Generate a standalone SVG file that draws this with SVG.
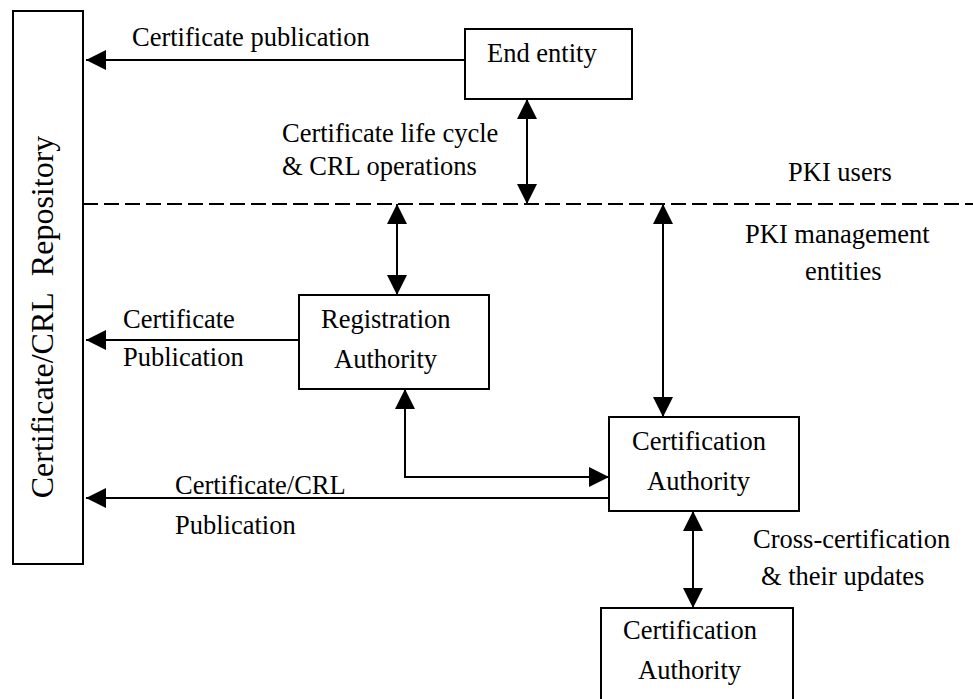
<svg xmlns="http://www.w3.org/2000/svg" width="973" height="699" viewBox="0 0 973 699">
<style>
.box{fill:#fff;stroke:#000;stroke-width:2}
.t{font-family:"Liberation Serif","Times New Roman",serif;font-size:26.5px;fill:#000}
.c{fill:none;stroke:#000;stroke-width:2}
.a{marker-end:url(#ah)}
.b{marker-start:url(#ah);marker-end:url(#ah)}
</style>
<defs>
<marker id="ah" viewBox="0 0 20 20" markerWidth="20" markerHeight="20" refX="20" refY="10" orient="auto-start-reverse" markerUnits="userSpaceOnUse">
<path d="M0,0 L20,10 L0,20 z" fill="#000"/>
</marker>
</defs>
<rect width="973" height="699" fill="#fff"/>
<g id="connectors">
<line class="c" x1="83" y1="204" x2="973" y2="204" stroke-dasharray="15 6"/>
<line class="c a" x1="465" y1="60" x2="86" y2="60"/>
<line class="c b" x1="527" y1="99" x2="527" y2="204"/>
<line class="c b" x1="397" y1="204" x2="397" y2="295"/>
<line class="c b" x1="663" y1="204" x2="663" y2="417"/>
<line class="c a" x1="299" y1="340" x2="86" y2="340"/>
<path class="c b" d="M405,389 L405,477 L609,477"/>
<line class="c a" x1="609" y1="498" x2="86" y2="498"/>
<line class="c b" x1="693" y1="511" x2="693" y2="608"/>
</g>
<g id="labels">
<text class="t" x="132" y="46">Certificate publication</text>
<text class="t" x="282" y="142">Certificate life cycle</text>
<text class="t" x="282" y="175">&amp; CRL operations</text>
<text class="t" x="788" y="181">PKI users</text>
<text class="t" x="745" y="243">PKI management</text>
<text class="t" x="805" y="280">entities</text>
<text class="t" x="123" y="328">Certificate</text>
<text class="t" x="123" y="366">Publication</text>
<text class="t" x="175" y="494">Certificate/CRL</text>
<text class="t" x="175" y="534">Publication</text>
<text class="t" x="753" y="548">Cross-certification</text>
<text class="t" x="761" y="585">&amp; their updates</text>
</g>
<g id="repository">
<rect class="box" x="13" y="11" width="70" height="553"/>
<text class="t" style="font-size:32px" text-anchor="middle" transform="translate(53,317) rotate(-90)">Certificate/CRL&#160; Repository</text>
</g>
<g id="end-entity">
<rect class="box" x="465" y="29" width="167" height="70"/>
<text class="t" x="487" y="62">End entity</text>
</g>
<g id="registration-authority">
<rect class="box" x="299" y="295" width="190" height="94"/>
<text class="t" x="321" y="328">Registration</text>
<text class="t" x="334" y="368">Authority</text>
</g>
<g id="certification-authority">
<rect class="box" x="609" y="417" width="190" height="94"/>
<text class="t" x="632" y="450">Certification</text>
<text class="t" x="647" y="490">Authority</text>
</g>
<g id="certification-authority-2">
<rect class="box" x="601" y="608" width="192" height="110"/>
<text class="t" x="623" y="639">Certification</text>
<text class="t" x="638" y="679">Authority</text>
</g>
</svg>
